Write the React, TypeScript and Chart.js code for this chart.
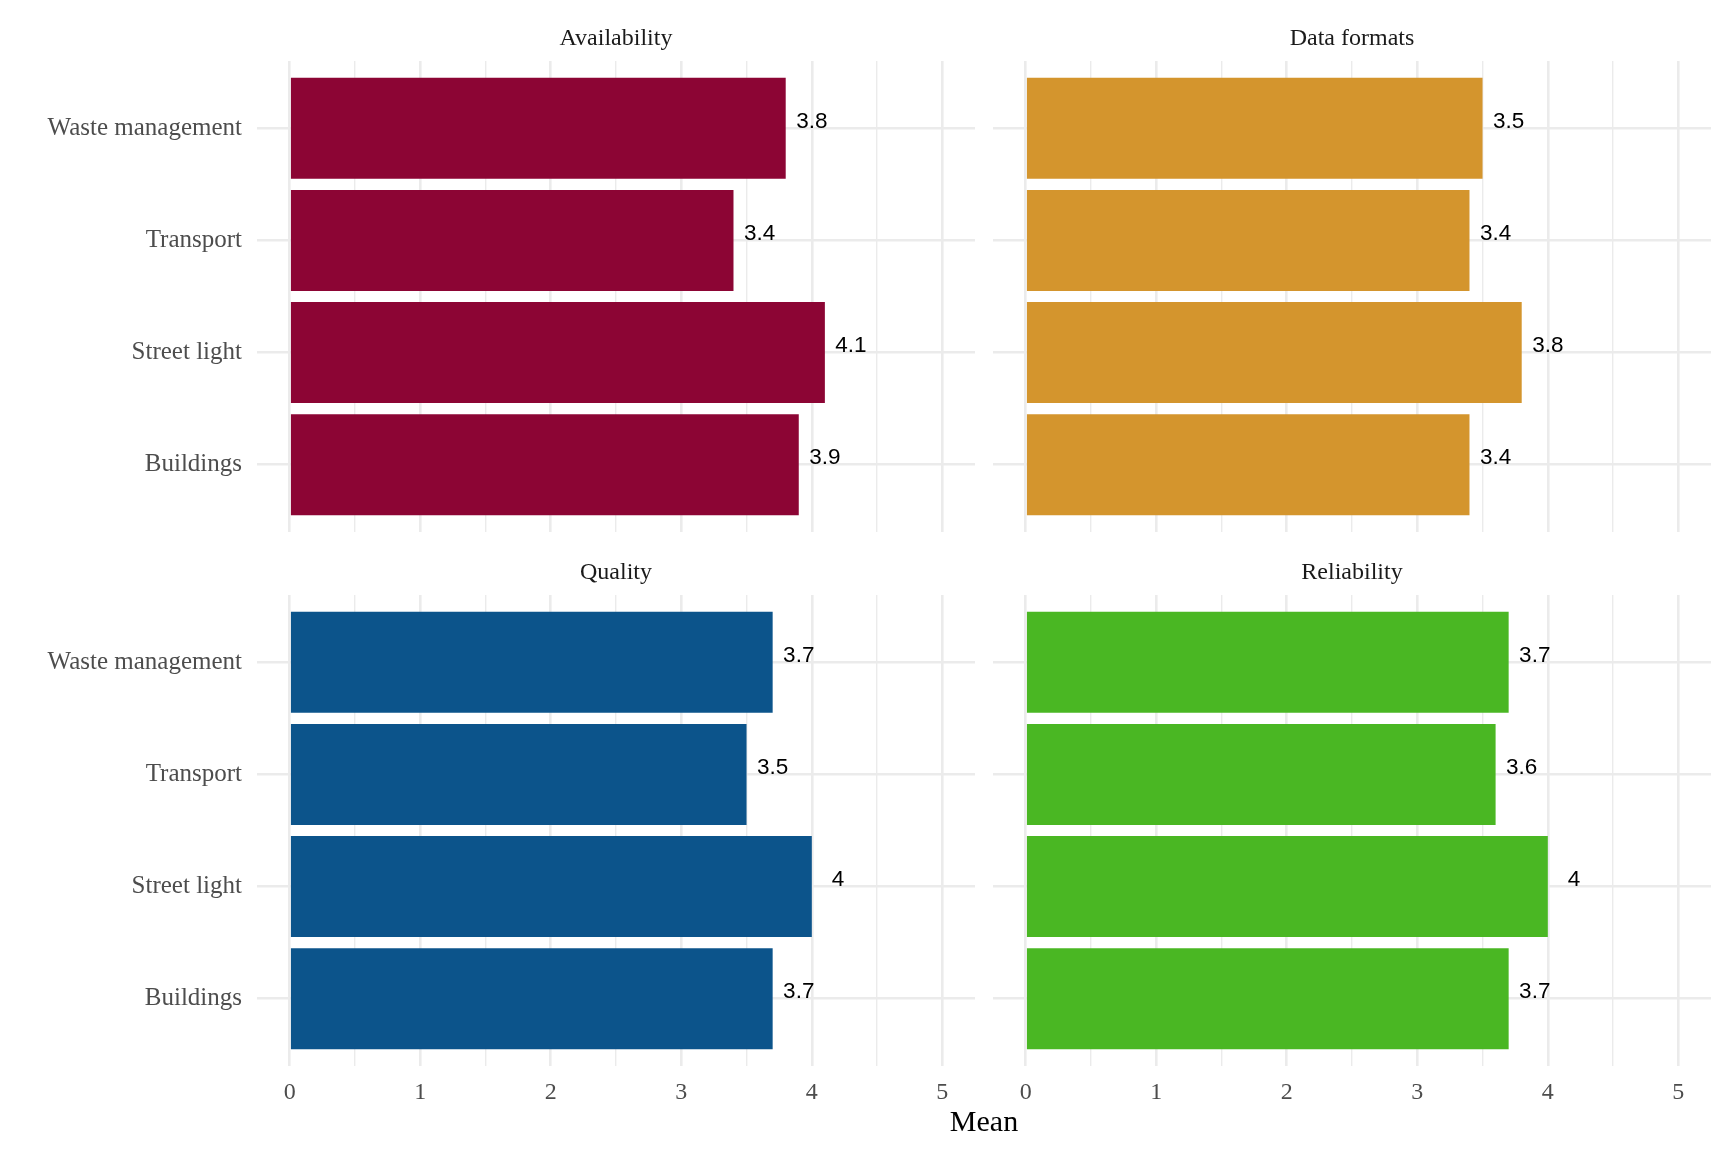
import { Chart, registerables } from "chart.js";
import type { ChartOptions, Plugin } from "chart.js";
import { useRef, useEffect } from "react";

Chart.register(...registerables);

// categories listed bottom to top
const categories = ["Buildings", "Street light", "Transport", "Waste management"];
const availability = [3.9, 4.1, 3.4, 3.8];
const dataFormats = [3.4, 3.8, 3.4, 3.5];
const quality = [3.7, 4.0, 3.5, 3.7];
const reliability = [3.7, 4.0, 3.6, 3.7];
const xTicks = [0, 0.5, 1, 1.5, 2, 2.5, 3, 3.5, 4, 4.5, 5];

const GRID = "#EBEBEB";
const SERIF = "'Liberation Serif', 'DejaVu Serif', serif";

const stripTitle: Plugin = {
  id: "stripTitle",
  afterDraw(chart, _args, opts: any) {
    const { ctx, chartArea } = chart;
    ctx.save();
    ctx.font = `24px ${SERIF}`;
    ctx.fillStyle = "#1A1A1A";
    ctx.textAlign = "center";
    ctx.textBaseline = "middle";
    ctx.fillText(opts.text, (chartArea.left + chartArea.right) / 2, chartArea.top - 22);
    ctx.restore();
  },
};

const valueLabels: Plugin = {
  id: "valueLabels",
  afterDatasetsDraw(chart) {
    const { ctx } = chart;
    const xs = chart.scales.x;
    const ys = chart.scales.y;
    const ds = chart.data.datasets[0].data as { x: number; y: number }[];
    ctx.save();
    ctx.font = "22.5px 'Liberation Sans', Arial, sans-serif";
    ctx.fillStyle = "#000000";
    ctx.textAlign = "center";
    ctx.textBaseline = "middle";
    ds.forEach((p) => {
      ctx.fillText(
        String(Number(p.x.toFixed(1))),
        xs.getPixelForValue(p.x + 0.2),
        ys.getPixelForValue(p.y + 0.06)
      );
    });
    ctx.restore();
  },
};

interface PanelProps {
  title: string;
  values: number[];
  color: string;
  left: number;
  top: number;
  width: number;
  height: number;
  showY: boolean;
  showX: boolean;
}

const Panel: React.FC<PanelProps> = ({ title, values, color, left, top, width, height, showY, showX }) => {
  const canvasRef = useRef<HTMLCanvasElement>(null);

  useEffect(() => {
    if (!canvasRef.current) return;
    const options: ChartOptions<"bar"> = {
      indexAxis: "y",
      responsive: false,
      animation: false,
      layout: {
        padding: { top: showX ? 55 : 61, right: showY ? 0 : 17, bottom: 0, left: 0 },
      },
      plugins: {
        legend: { display: false },
        tooltip: { enabled: false },
        stripTitle: { text: title },
      } as any,
      scales: {
        x: {
          type: "linear",
          min: -0.25,
          max: 5.25,
          offset: false,
          afterBuildTicks: (scale) => {
            scale.ticks = xTicks.map((v) => ({ value: v }));
          },
          afterFit: (scale: any) => {
            scale.height = showX ? 86 : 0;
            scale.paddingLeft = 0;
            scale.paddingRight = 0;
          },
          border: { display: false },
          grid: {
            color: GRID,
            drawTicks: false,
            offset: false,
            lineWidth: (c: any) => (c.tick && Number.isInteger(c.tick.value) ? 2.6 : 1.4),
          },
          ticks: {
            display: showX,
            autoSkip: false,
            maxRotation: 0,
            padding: 12,
            color: "#4D4D4D",
            font: { family: SERIF, size: 24 },
            callback: (v) => (Number.isInteger(Number(v)) ? String(v) : ""),
          },
        },
        y: {
          type: "linear",
          min: 0.4,
          max: 4.6,
          offset: false,
          afterBuildTicks: (scale) => {
            scale.ticks = categories.map((_, i) => ({ value: i + 1 }));
          },
          afterFit: (scale: any) => {
            scale.width = showY ? 257 : 18;
            scale.paddingTop = 0;
            scale.paddingBottom = 0;
          },
          border: { display: false },
          grid: { color: GRID, drawTicks: false, offset: false, lineWidth: 2.6 },
          ticks: {
            display: showY,
            autoSkip: false,
            padding: 15,
            color: "#4D4D4D",
            font: { family: SERIF, size: 25 },
            callback: (v) => categories[Number(v) - 1] ?? "",
          },
        },
      },
    };
    const chart = new Chart(canvasRef.current, {
      type: "bar",
      data: {
        datasets: [
          {
            data: values.map((v, i) => ({ x: v, y: i + 1 })),
            backgroundColor: color,
            borderWidth: 0,
            inflateAmount: 0,
            barPercentage: 0.9,
            categoryPercentage: 1,
          },
        ],
      },
      options,
      plugins: [stripTitle, valueLabels],
    });
    return () => chart.destroy();
  }, [title, values, color, showX, showY]);

  return (
    <canvas
      ref={canvasRef}
      width={width}
      height={height}
      style={{ position: "absolute", left, top, width, height }}
    />
  );
};

export default function App() {
  return (
    <div style={{ position: "absolute", left: 0, top: 0, width: 1728, height: 1152, background: "#fff" }}>
      <Panel title="Availability" values={availability} color="#8C0534" left={0} top={0} width={975} height={532} showY showX={false} />
      <Panel title="Data formats" values={dataFormats} color="#D4952D" left={975} top={0} width={753} height={532} showY={false} showX={false} />
      <Panel title="Quality" values={quality} color="#0C548B" left={0} top={540} width={975} height={612} showY showX />
      <Panel title="Reliability" values={reliability} color="#4AB723" left={975} top={540} width={753} height={612} showY={false} showX />
      <div
        style={{
          position: "absolute",
          left: 257,
          width: 1454,
          top: 1103,
          textAlign: "center",
          fontFamily: SERIF,
          fontSize: 30,
          lineHeight: "36px",
          color: "#000",
        }}
      >
        Mean
      </div>
    </div>
  );
}
